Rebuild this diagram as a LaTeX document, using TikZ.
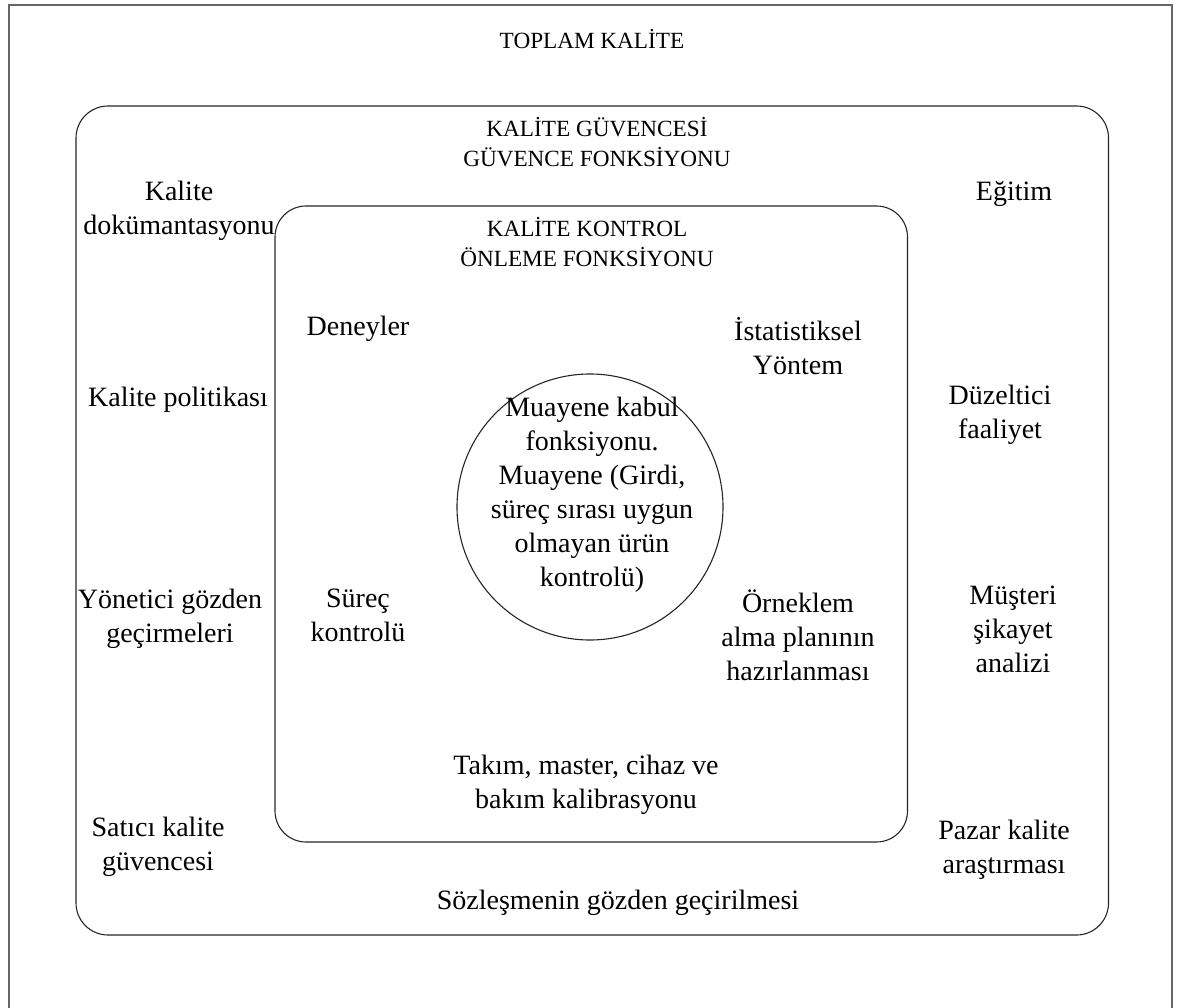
\documentclass[tikz,border=0pt]{standalone}
\usepackage{fontspec}
\setmainfont{Liberation Serif}
\begin{document}
\begin{tikzpicture}[x=1pt,y=-1pt,
  frameline/.style={draw=black!60, line width=1.4pt},
  boxline/.style={draw=black!85, line width=1.1pt},
  body/.style={align=center, inner sep=0pt, font=\fontsize{28}{34}\selectfont},
  heading/.style={align=center, inner sep=0pt, font=\fontsize{23.2}{30}\selectfont}]
\useasboundingbox (0,0) rectangle (1178,1008);
\fill[white] (0,0) rectangle (1178,1008);

% outer frame (open at the bottom edge)
\draw[frameline] (9,1008) -- (9,5) -- (1172,5) -- (1172,1008);
\node[heading] (toplam) at (592,39) {TOPLAM KALİTE};

% quality assurance box
\draw[boxline, rounded corners=32pt] (76,106) rectangle (1108.5,935);
\node[heading] (guvence) at (597,142) {KALİTE GÜVENCESİ\\GÜVENCE FONKSİYONU};

% quality control box
\draw[boxline, rounded corners=31pt] (275,206) rectangle (907.5,842);
\node[heading] (kontrol) at (587,242) {KALİTE KONTROL\\ÖNLEME FONKSİYONU};

% inspection circle
\draw[boxline] (590,507) circle (133);
\node[body] (muayene) at (592,495) {Muayene kabul\\fonksiyonu.\\Muayene (Girdi,\\süreç sırası uygun\\olmayan ürün\\kontrolü)};

% items inside the control box
\node[body] (deney) at (358,329) {Deneyler};
\node[body] (istat) at (798,346) {İstatistiksel\\Yöntem};
\node[body] (surec) at (358,615) {Süreç\\kontrolü};
\node[body] (orneklem) at (798,635) {Örneklem\\alma planının\\hazırlanması};
\node[body] (takim) at (586,785) {Takım, master, cihaz ve\\bakım kalibrasyonu};

% items of the assurance ring
\node[body] (dokuman) at (179,211) {Kalite\\dokümantasyonu};
\node[body] (politika) at (178,400) {Kalite politikası};
\node[body] (yonetici) at (170,619) {Yönetici gözden\\geçirmeleri};
\node[body] (satici) at (158,847) {Satıcı kalite\\güvencesi};
\node[body] (egitim) at (1014,194) {Eğitim};
\node[body] (duzeltici) at (1000,415) {Düzeltici\\faaliyet};
\node[body] (musteri) at (1013,629) {Müşteri\\şikayet\\analizi};
\node[body] (pazar) at (1004,850) {Pazar kalite\\araştırması};
\node[body] (sozlesme) at (618,903) {Sözleşmenin gözden geçirilmesi};
\end{tikzpicture}
\end{document}
